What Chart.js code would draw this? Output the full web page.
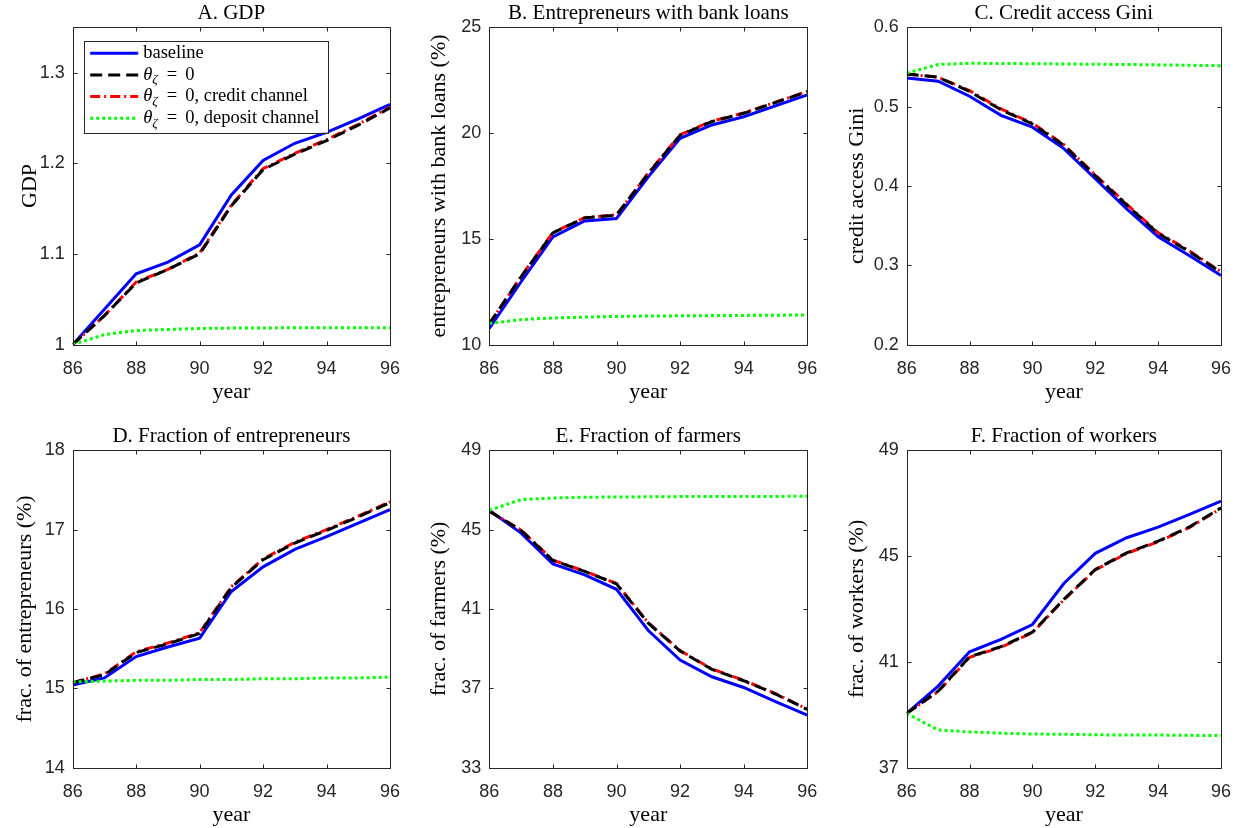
<!DOCTYPE html>
<html>
<head>
<meta charset="utf-8">
<script src="https://cdn.jsdelivr.net/npm/chart.js@4.4.1/dist/chart.umd.min.js"></script>
<style>
  body { margin: 0; background: #fff; width: 1245px; height: 828px; overflow: hidden; position: relative; }
  canvas { position: absolute; }
</style>
</head>
<body>
<canvas id="panelA" width="415" height="405" style="left:0px;top:0px"></canvas>
<canvas id="panelB" width="415" height="405" style="left:420px;top:0px"></canvas>
<canvas id="panelC" width="410" height="405" style="left:835px;top:0px"></canvas>
<canvas id="panelD" width="415" height="405" style="left:0px;top:423px"></canvas>
<canvas id="panelE" width="415" height="405" style="left:420px;top:423px"></canvas>
<canvas id="panelF" width="410" height="405" style="left:835px;top:423px"></canvas>
<script>
// data
var years = [86, 87, 88, 89, 90, 91, 92, 93, 94, 95, 96];
var yearTicks = [86, 88, 90, 92, 94, 96];
var seriesNames = ['baseline', 'θ_ζ = 0', 'θ_ζ = 0, credit channel', 'θ_ζ = 0, deposit channel'];

// A. GDP
var gdpBaseline = [1.000, 1.039, 1.078, 1.091, 1.110, 1.165, 1.203, 1.222, 1.234, 1.249, 1.265];
var gdpNoTheta  = [1.000, 1.032, 1.068, 1.083, 1.100, 1.153, 1.193, 1.210, 1.225, 1.242, 1.261];
var gdpCredit   = [1.000, 1.032, 1.069, 1.083, 1.101, 1.154, 1.194, 1.211, 1.226, 1.243, 1.262];
var gdpDeposit  = [1.000, 1.011, 1.0155, 1.0167, 1.0178, 1.0182, 1.0184, 1.0185, 1.0186, 1.0186, 1.0187];
var gdpTicks = [1, 1.1, 1.2, 1.3];

// B. Entrepreneurs with bank loans
var loanBaseline = [10.76, 12.97, 15.09, 15.84, 15.96, 17.93, 19.75, 20.38, 20.77, 21.28, 21.80];
var loanNoTheta  = [10.99, 13.20, 15.28, 15.99, 16.12, 18.09, 19.90, 20.54, 20.93, 21.44, 21.95];
var loanCredit   = [10.98, 13.22, 15.30, 16.00, 16.13, 18.11, 19.92, 20.56, 20.95, 21.46, 21.96];
var loanDeposit  = [11.00, 11.18, 11.26, 11.30, 11.33, 11.35, 11.36, 11.37, 11.38, 11.39, 11.40];
var loanTicks = [10, 15, 20, 25];

// C. Credit access Gini
var giniBaseline = [0.536, 0.532, 0.513, 0.489, 0.474, 0.447, 0.409, 0.371, 0.336, 0.312, 0.287];
var giniNoTheta  = [0.541, 0.537, 0.519, 0.496, 0.478, 0.451, 0.413, 0.376, 0.340, 0.317, 0.291];
var giniCredit   = [0.541, 0.537, 0.520, 0.497, 0.479, 0.452, 0.414, 0.377, 0.341, 0.318, 0.292];
var giniDeposit  = [0.542, 0.553, 0.5545, 0.5543, 0.554, 0.5537, 0.5533, 0.553, 0.5525, 0.552, 0.5515];
var giniTicks = [0.2, 0.3, 0.4, 0.5, 0.6];

// D. Fraction of entrepreneurs
var entBaseline = [15.04, 15.13, 15.40, 15.52, 15.63, 16.22, 16.53, 16.75, 16.91, 17.08, 17.25];
var entNoTheta  = [15.07, 15.17, 15.45, 15.56, 15.69, 16.27, 16.62, 16.83, 16.99, 17.16, 17.34];
var entCredit   = [15.07, 15.18, 15.46, 15.57, 15.70, 16.28, 16.63, 16.84, 17.00, 17.17, 17.35];
var entDeposit  = [15.08, 15.09, 15.10, 15.10, 15.11, 15.11, 15.12, 15.12, 15.13, 15.13, 15.14];
var entTicks = [14, 15, 16, 17, 18];

// E. Fraction of farmers
var farmBaseline = [45.97, 44.82, 43.27, 42.72, 41.99, 39.91, 38.42, 37.58, 37.04, 36.32, 35.64];
var farmNoTheta  = [45.92, 44.96, 43.44, 42.89, 42.26, 40.28, 38.88, 37.95, 37.38, 36.71, 35.93];
var farmCredit   = [45.92, 44.98, 43.46, 42.90, 42.28, 40.30, 38.90, 37.97, 37.40, 36.73, 35.95];
var farmDeposit  = [45.97, 46.51, 46.59, 46.63, 46.64, 46.65, 46.66, 46.66, 46.67, 46.67, 46.68];
var farmTicks = [33, 37, 41, 45, 49];

// F. Fraction of workers
var workBaseline = [39.05, 40.08, 41.38, 41.85, 42.41, 43.96, 45.10, 45.69, 46.09, 46.57, 47.07];
var workNoTheta  = [39.05, 39.89, 41.19, 41.57, 42.12, 43.36, 44.49, 45.12, 45.56, 46.10, 46.82];
var workCredit   = [39.05, 39.87, 41.17, 41.55, 42.10, 43.34, 44.47, 45.10, 45.54, 46.08, 46.80];
var workDeposit  = [39.05, 38.42, 38.35, 38.30, 38.27, 38.26, 38.24, 38.23, 38.23, 38.22, 38.21];
var workTicks = [37, 41, 45, 49];

var serif = 'Liberation Serif';
var sans = 'Liberation Sans';
var axisGray = '#262626';

function toPoints(values) {
    return years.map(function(yr, i) { return {x: yr, y: values[i]}; });
}

// MATLAB-like box with inward ticks on all four sides
var matlabBox = {
    id: 'matlabBox',
    afterDatasetsDraw: function(chart) {
        var a = chart.chartArea, ctx = chart.ctx;
        var xs = chart.scales.x, ys = chart.scales.y;
        var L = Math.round(a.left) + 0.5, R = Math.round(a.right) + 0.5;
        var T = Math.round(a.top) + 0.5, B = Math.round(a.bottom) + 0.5;
        ctx.save();
        ctx.strokeStyle = axisGray;
        ctx.lineWidth = 1;
        ctx.beginPath();
        ctx.rect(L, T, R - L, B - T);
        xs.ticks.forEach(function(t) {
            var px = Math.round(xs.getPixelForValue(t.value)) + 0.5;
            ctx.moveTo(px, B); ctx.lineTo(px, B - 4);
            ctx.moveTo(px, T); ctx.lineTo(px, T + 4);
        });
        ys.ticks.forEach(function(t) {
            var py = Math.round(ys.getPixelForValue(t.value)) + 0.5;
            ctx.moveTo(L, py); ctx.lineTo(L + 4, py);
            ctx.moveTo(R, py); ctx.lineTo(R - 4, py);
        });
        ctx.stroke();
        ctx.restore();
    }
};

// legend box inside panel A, with the theta_zeta subscript
var boxLegend = {
    id: 'boxLegend',
    afterDraw: function(chart, args, opts) {
        if (!opts.show) return;
        var a = chart.chartArea, ctx = chart.ctx;
        var x0 = a.left + 11.5, y0 = a.top + 13.5, w = 244, h = 92;
        var fs = 18.5;
        ctx.save();
        ctx.fillStyle = '#fff';
        ctx.fillRect(x0, y0, w, h);
        ctx.strokeStyle = axisGray;
        ctx.lineWidth = 1;
        ctx.strokeRect(Math.round(x0) + 0.5, Math.round(y0) + 0.5, w, h);
        chart.data.datasets.forEach(function(ds, i) {
            var cy = y0 + 12.5 + i * 21.7;
            ctx.strokeStyle = ds.borderColor;
            ctx.lineWidth = ds.borderWidth;
            ctx.setLineDash(ds.borderDash || []);
            ctx.beginPath();
            ctx.moveTo(x0 + 6, cy);
            ctx.lineTo(x0 + 54, cy);
            ctx.stroke();
            ctx.setLineDash([]);
            ctx.fillStyle = '#000';
            ctx.textBaseline = 'middle';
            var tx = x0 + 59;
            var parts = ds.label.split('_');
            if (parts.length === 1) {
                ctx.font = fs + 'px "' + serif + '"';
                ctx.fillText(ds.label, tx, cy);
                return;
            }
            ctx.font = 'italic ' + fs + 'px "' + serif + '"';
            ctx.fillText(parts[0], tx, cy);
            tx += ctx.measureText(parts[0]).width;
            ctx.font = 'italic 13.5px "' + serif + '"';
            var sub = parts[1].charAt(0);
            ctx.fillText(sub, tx, cy + 5);
            tx += ctx.measureText(sub).width + 1;
            ctx.font = fs + 'px "' + serif + '"';
            // math spacing around the equals sign
            var rest = parts[1].slice(1).trim();
            var eq = rest.indexOf('=');
            tx += 8;
            ctx.fillText('=', tx, cy);
            tx += ctx.measureText('=').width + 8;
            ctx.fillText(rest.slice(eq + 1).trim(), tx, cy);
        });
        ctx.restore();
    }
};

function tickText(v) {
    return String(Number(v.toFixed(3)));
}

function makePanel(id, p) {
    var ctx = document.getElementById(id).getContext('2d');
    return new Chart(ctx, {
        type: 'line',
        data: {
            datasets: [
                { label: seriesNames[0], data: toPoints(p.series[0]), borderColor: '#0000ff', borderWidth: 3, order: 3 },
                { label: seriesNames[1], data: toPoints(p.series[1]), borderColor: '#000000', borderWidth: 3, borderDash: [12, 6], order: 1 },
                { label: seriesNames[2], data: toPoints(p.series[2]), borderColor: '#ff0000', borderWidth: 3, borderDash: [10, 4, 2, 4], order: 2 },
                { label: seriesNames[3], data: toPoints(p.series[3]), borderColor: '#00ff00', borderWidth: 3, borderDash: [3, 3], order: 0 }
            ]
        },
        options: {
            responsive: false,
            animation: false,
            devicePixelRatio: 1,
            elements: { point: { radius: 0 }, line: { tension: 0, fill: false, borderCapStyle: 'butt' } },
            layout: { padding: { left: 0, right: p.padRight, top: 0, bottom: 0 } },
            plugins: {
                legend: { display: false },
                tooltip: { enabled: false },
                title: {
                    display: true,
                    fullSize: false,
                    text: p.title,
                    color: '#000',
                    font: { family: serif, size: 21, weight: 'normal' },
                    padding: { top: 1, bottom: 1 }
                },
                boxLegend: { show: !!p.legend }
            },
            scales: {
                x: {
                    type: 'linear',
                    min: 86,
                    max: 96,
                    grid: { display: false, drawTicks: false },
                    border: { display: false },
                    afterBuildTicks: function(scale) {
                        scale.ticks = yearTicks.map(function(v) { return {value: v}; });
                    },
                    afterFit: function(scale) { scale.height = 60.4; },
                    ticks: {
                        autoSkip: false, maxRotation: 0, padding: 14,
                        color: axisGray, font: { family: sans, size: 18 },
                        callback: tickText
                    },
                    title: {
                        display: true, text: 'year', color: '#000',
                        font: { family: serif, size: 22 }, padding: { top: 0, bottom: 0 }
                    }
                },
                y: {
                    type: 'linear',
                    min: p.yMin,
                    max: p.yMax,
                    grid: { display: false, drawTicks: false },
                    border: { display: false },
                    afterBuildTicks: function(scale) {
                        scale.ticks = p.yTicks.map(function(v) { return {value: v}; });
                    },
                    afterFit: function(scale) { scale.width = p.yWidth; },
                    ticks: {
                        padding: 8, color: axisGray, font: { family: sans, size: 18 },
                        callback: tickText
                    },
                    title: {
                        display: true, text: p.yLabel, color: '#000',
                        font: { family: serif, size: 22 }, padding: { top: p.yTitlePad, bottom: 0 }
                    }
                }
            }
        },
        plugins: [matlabBox, boxLegend]
    });
}

makePanel('panelA', {
    title: 'A. GDP', yLabel: 'GDP',
    series: [gdpBaseline, gdpNoTheta, gdpCredit, gdpDeposit],
    yMin: 1, yMax: 1.35, yTicks: gdpTicks,
    yWidth: 72.7, padRight: 25, yTitlePad: 17, legend: true
});
makePanel('panelB', {
    title: 'B. Entrepreneurs with bank loans', yLabel: 'entrepreneurs with bank loans (%)',
    series: [loanBaseline, loanNoTheta, loanCredit, loanDeposit],
    yMin: 10, yMax: 25, yTicks: loanTicks,
    yWidth: 69.3, padRight: 27.7, yTitlePad: 6
});
makePanel('panelC', {
    title: 'C. Credit access Gini', yLabel: 'credit access Gini',
    series: [giniBaseline, giniNoTheta, giniCredit, giniDeposit],
    yMin: 0.2, yMax: 0.6, yTicks: giniTicks,
    yWidth: 71.7, padRight: 21.7, yTitlePad: 9
});
makePanel('panelD', {
    title: 'D. Fraction of entrepreneurs', yLabel: 'frac. of entrepreneurs (%)',
    series: [entBaseline, entNoTheta, entCredit, entDeposit],
    yMin: 14, yMax: 18, yTicks: entTicks,
    yWidth: 72.7, padRight: 25, yTitlePad: 12
});
makePanel('panelE', {
    title: 'E. Fraction of farmers', yLabel: 'frac. of farmers (%)',
    series: [farmBaseline, farmNoTheta, farmCredit, farmDeposit],
    yMin: 33, yMax: 49, yTicks: farmTicks,
    yWidth: 69.3, padRight: 27.7, yTitlePad: 6
});
makePanel('panelF', {
    title: 'F. Fraction of workers', yLabel: 'frac. of workers (%)',
    series: [workBaseline, workNoTheta, workCredit, workDeposit],
    yMin: 37, yMax: 49, yTicks: workTicks,
    yWidth: 71.7, padRight: 21.7, yTitlePad: 9
});
</script>
</body>
</html>
